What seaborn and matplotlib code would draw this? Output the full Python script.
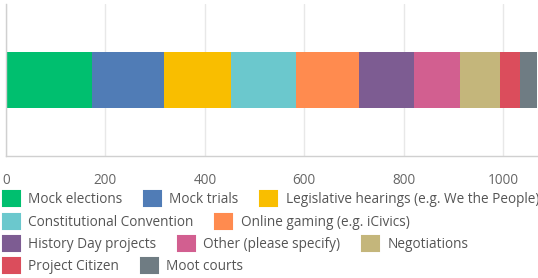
import numpy as np
import pandas as pd
import matplotlib
matplotlib.use("Agg")
import matplotlib.pyplot as plt
from matplotlib.patches import Patch
import seaborn as sns

# answer categories and counts
categories = ["Mock elections", "Mock trials", "Legislative hearings (e.g. We the People)",
              "Constitutional Convention", "Online gaming (e.g. iCivics)",
              "History Day projects", "Other (please specify)", "Negotiations",
              "Project Citizen", "Moot courts"]
counts = [172, 145, 136, 130, 126, 112, 93, 79, 40, 35]
colors = ["#00BF6F", "#507CB6", "#F9BE00", "#6BC8CD", "#FF8B4F",
          "#7D5C92", "#D25F90", "#C4B67B", "#DB4D5C", "#6F7C83"]
xticks = [0, 200, 400, 600, 800, 1000]

# legend rows as in the reference
legend_rows = [[0, 1, 2], [3, 4], [5, 6, 7], [8, 9]]

sns.set_theme(style="white")
plt.rcParams['font.family'] = ['Open Sans', 'DejaVu Sans']

df = pd.DataFrame({"answer": categories, "count": counts, "color": colors})
df["cum"] = df["count"].cumsum()

fig = plt.figure(figsize=(5.38, 2.78), dpi=100)
ax = fig.add_axes([6 / 538, 1 - 156 / 278, 1 - 6 / 538, 152 / 278])

# stacked bar: draw cumulative totals from largest to smallest
for i in reversed(range(len(df))):
    sns.barplot(x=[df["cum"][i]], y=[""], orient="h", color=df["color"][i],
                width=0.37, saturation=1, ax=ax, edgecolor="none", linewidth=0)

ax.set_xlim(0, 1070)
ax.set_ylim(0.5, -0.5)
ax.set_xticks(xticks)
ax.set_yticks([])
ax.set_xlabel("")
ax.set_ylabel("")
ax.set_axisbelow(True)
ax.xaxis.grid(True, color="#e8e8e8", linewidth=1)
for s in ["top", "right"]:
    ax.spines[s].set_visible(False)
for s in ["left", "bottom"]:
    ax.spines[s].set_color("#d0d0d0")
    ax.spines[s].set_linewidth(1)
ax.tick_params(axis="x", length=0, pad=12, labelsize=9.8, labelcolor="#666666")

# legend: one row per fig.legend, the reference cuts the first row at the right edge
row_y = [199, 222, 244, 266]
for r, idxs in enumerate(legend_rows):
    handles = [Patch(facecolor=colors[i], edgecolor=colors[i], linewidth=1.5,
                     joinstyle="round") for i in idxs]
    labels = [categories[i] for i in idxs]
    leg = fig.legend(handles, labels, loc="center left", ncol=len(idxs),
                     bbox_to_anchor=(3 / 538, 1 - row_y[r] / 278), frameon=False,
                     fontsize=9.8, handlelength=1.25, handleheight=1.25,
                     handletextpad=0.6, columnspacing=1.6, borderpad=0,
                     borderaxespad=0)
    for t in leg.get_texts():
        t.set_color("#555555")

fig.savefig("out.png", dpi=100)
